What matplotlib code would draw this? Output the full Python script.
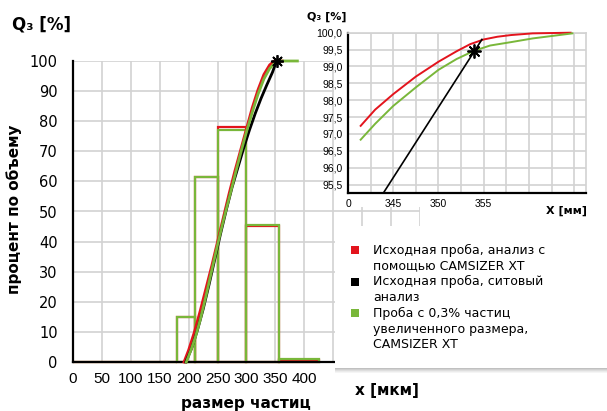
import matplotlib.pyplot as plt
from matplotlib.patches import Rectangle
import numpy as np

RED = "#e3141d"
GREEN = "#79b73a"
GRID = "#d2d2d2"

# histogram classes (µm) and class heights, main chart
bar_edges = [0, 180, 211, 250, 300, 356, 425]
red_bars = [0, 15, 61.5, 78, 45.2, 0.6]
green_bars = [0, 15, 61.5, 77, 45.5, 1.0]

# cumulative Q3 curves, main chart
red_x = [192, 200, 210, 220, 230, 240, 250, 260, 270, 280, 290, 300, 310, 320, 330, 340, 348, 362]
red_y = [0, 4, 10, 17, 24.5, 32, 40, 48, 56, 63.5, 70.5, 77.5, 84.5, 90.5, 95.5, 98.7, 100, 100]
black_x = [195, 205, 215, 225, 235, 245, 255, 265, 275, 285, 295, 305, 315, 325, 335, 345, 352]
black_y = [0, 4.5, 10.5, 17.5, 25.5, 34, 42.5, 50.5, 58, 64.5, 71, 77, 82.5, 87.5, 92, 96.3, 100]
green_x = [196, 205, 212, 220, 230, 240, 250, 260, 270, 280, 290, 300, 310, 320, 330, 340, 350, 355, 388]
green_y = [0, 4.5, 8.5, 14, 22, 30.5, 39, 47, 54.5, 62, 69.5, 76.5, 83, 89, 94, 97.5, 99.5, 100, 100]
star_main = [352, 100]

x_ticks = list(range(0, 601, 50))
x_tick_labels = ["0", "50", "100", "150", "200", "250", "300", "350", "400", "", "", "", ""]
y_ticks = list(range(0, 101, 10))

# inset (zoom around the top of the curves)
in_red_x = [341.4, 343, 345, 347.5, 350, 352, 353.5, 355, 356.5, 358, 360.4, 364.6]
in_red_y = [97.24, 97.72, 98.18, 98.70, 99.14, 99.45, 99.66, 99.80, 99.88, 99.93, 99.98, 100.0]
in_green_x = [341.4, 343, 345, 347.5, 350, 352, 353.9, 355.7, 358, 360.4, 364.8]
in_green_y = [96.83, 97.3, 97.83, 98.38, 98.9, 99.22, 99.46, 99.62, 99.72, 99.83, 99.98]
in_black_x = [343.0, 354.8]
in_black_y = [94.87, 99.80]
star_inset = [353.9, 99.45]

in_x_ticks = list(np.arange(340, 365.1, 2.5))
in_x_labels = {340: "0", 345: "345", 350: "350", 355: "355"}
in_y_ticks = list(np.arange(95.5, 100.01, 0.5))

legend_colors = [RED, "black", GREEN]
legend_lines = [
    ["Исходная проба, анализ с", "помощью CAMSIZER XT"],
    ["Исходная проба, ситовый", "анализ"],
    ["Проба с 0,3% частиц", "увеличенного размера,", "CAMSIZER XT"],
]

W, H = 607, 411
fig = plt.figure(figsize=(W / 100, H / 100), dpi=100)


def fx(px):
    return px / W


def fy(py):
    return 1 - py / H


# ---- main chart ----
ax = fig.add_axes([fx(73), fy(362), (420 - 73) / W, (362 - 61) / H])
ax.bar(bar_edges[:-1], red_bars, width=np.diff(bar_edges), align="edge",
       fill=False, edgecolor=RED, lw=1.6, zorder=2, clip_on=False)
ax.bar(bar_edges[:-1], green_bars, width=np.diff(bar_edges), align="edge",
       fill=False, edgecolor=GREEN, lw=1.6, zorder=2, clip_on=False)
ax.plot(red_x, red_y, color=RED, lw=2, zorder=3, clip_on=False)
ax.plot(black_x, black_y, color="black", lw=2, zorder=3, clip_on=False)
ax.plot(green_x, green_y, color=GREEN, lw=2, zorder=3, clip_on=False)
ax.plot(*star_main, marker=(8, 2, 0), ms=9, mew=1.3, color="black",
        zorder=5, clip_on=False)

ax.set_xlim(0, 600)
ax.set_ylim(0, 100)
ax.set_xticks(x_ticks)
ax.set_xticklabels(x_tick_labels, family=["Liberation Sans Narrow", "Liberation Sans"],
                   fontsize=11)
ax.set_yticks(y_ticks)
ax.set_yticklabels([str(v) for v in y_ticks], fontsize=10.5)
ax.tick_params(axis="x", length=0, pad=7)
ax.tick_params(axis="y", length=0, pad=11)
ax.grid(True, color=GRID, lw=1.2)
ax.set_axisbelow(True)
for s in ["top", "right"]:
    ax.spines[s].set_visible(False)
for s in ["left", "bottom"]:
    ax.spines[s].set_color("black")
    ax.spines[s].set_linewidth(1.6)

fig.text(fx(12), fy(25), "Q₃ [%]", fontsize=12, fontweight="bold", va="center")
fig.text(fx(14), fy(209), "процент по объему", fontsize=11, fontweight="bold",
         rotation=90, ha="center", va="center")
fig.text(fx(246), fy(403), "размер частиц", fontsize=11, fontweight="bold",
         ha="center", va="center")
fig.text(fx(387), fy(390), "x [мкм]", fontsize=11, fontweight="bold",
         ha="center", va="center")

# ---- inset ----
fig.add_artist(Rectangle((fx(334), fy(207)), 1, 1, transform=fig.transFigure,
                         facecolor="white", edgecolor="none", zorder=1))
ax2 = fig.add_axes([fx(348), fy(193), (586 - 348) / W, (193 - 32.7) / H])
ax2.set_zorder(3)
ax2.plot(in_red_x, in_red_y, color=RED, lw=1.4, zorder=3, clip_on=False)
ax2.plot(in_green_x, in_green_y, color=GREEN, lw=1.4, zorder=3, clip_on=False)
ax2.plot(in_black_x, in_black_y, color="black", lw=1.2, zorder=3)
ax2.plot(*star_inset, marker=(8, 2, 0), ms=10, mew=1.3, color="black", zorder=5)
ax2.set_xlim(340, 366.3)
ax2.set_ylim(95.25, 100.0)
ax2.set_xticks(in_x_ticks)
ax2.set_xticklabels([in_x_labels.get(int(v), "") if v == int(v) else "" for v in in_x_ticks],
                    family="Liberation Sans", fontsize=7.5)
ax2.set_yticks(in_y_ticks)
ax2.set_yticklabels([f"{v:.1f}".replace(".", ",") for v in in_y_ticks],
                    family="Liberation Sans", fontsize=7.5)
ax2.tick_params(length=0, pad=4)
ax2.grid(True, color=GRID, lw=1.2)
ax2.set_axisbelow(True)
for s in ["top", "right"]:
    ax2.spines[s].set_color(GRID)
    ax2.spines[s].set_linewidth(1.2)
for s in ["left", "bottom"]:
    ax2.spines[s].set_color("black")
    ax2.spines[s].set_linewidth(1.6)

fig.text(fx(307), fy(17), "Q₃ [%]", fontsize=8, fontweight="bold", va="center")
fig.text(fx(587), fy(211), "X [мм]", fontsize=8, fontweight="bold",
         ha="right", va="center", zorder=4)

# ---- legend box with bottom shadow ----
for i, c in enumerate(["#c0c0c0", "#d0d0d0", "#dedede", "#ebebeb", "#f5f5f5"]):
    fig.add_artist(Rectangle((fx(335), fy(369 + i)), 1, 1 / H, transform=fig.transFigure,
                             facecolor=c, edgecolor="none", zorder=1))
fig.add_artist(Rectangle((fx(335), fy(368)), 1, (368 - 226) / H, transform=fig.transFigure,
                         facecolor="white", edgecolor="none", zorder=1.5))

y_line = 250
for color, lines in zip(legend_colors, legend_lines):
    fig.add_artist(Rectangle((fx(351), fy(y_line + 4)), 8 / W, 8 / H,
                             transform=fig.transFigure, facecolor=color,
                             edgecolor="none", zorder=4))
    for ln in lines:
        fig.text(fx(373), fy(y_line), ln, fontsize=9, va="center", zorder=4)
        y_line += 15.8

fig.savefig("out.png", dpi=100)
